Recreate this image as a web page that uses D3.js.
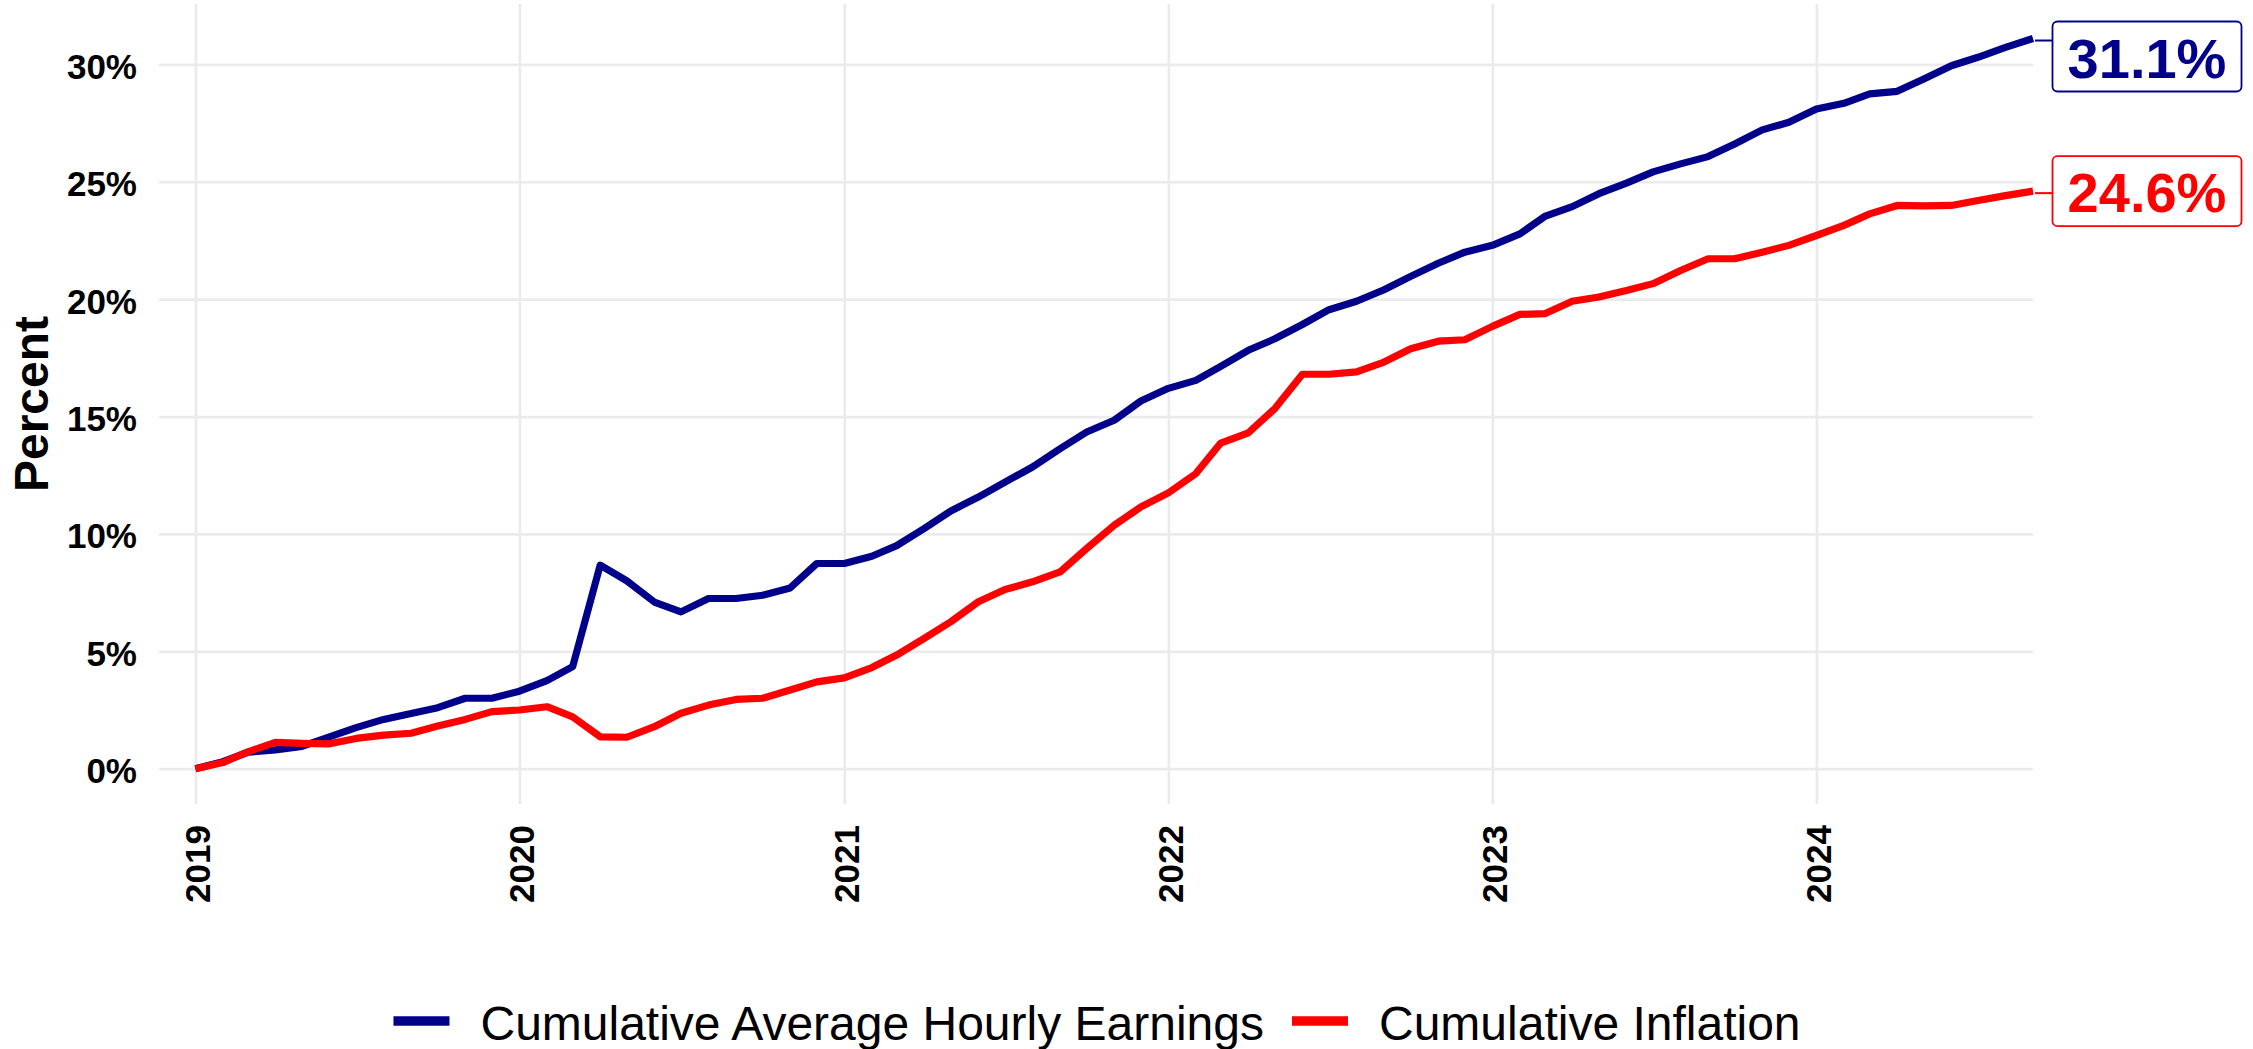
<!DOCTYPE html>
<html>
<head>
<meta charset="utf-8">
<script src="https://cdn.jsdelivr.net/npm/d3@7"></script>
<style>
  html, body { margin: 0; padding: 0; background: #ffffff; }
  svg { display: block; font-family: "Liberation Sans", Arial, Helvetica, sans-serif; }
</style>
</head>
<body>
<svg id="chart" width="2253" height="1049"></svg>
<script>
// ---------------- data ----------------
const months = [
  "2019-01","2019-02","2019-03","2019-04","2019-05","2019-06","2019-07","2019-08","2019-09","2019-10","2019-11","2019-12",
  "2020-01","2020-02","2020-03","2020-04","2020-05","2020-06","2020-07","2020-08","2020-09","2020-10","2020-11","2020-12",
  "2021-01","2021-02","2021-03","2021-04","2021-05","2021-06","2021-07","2021-08","2021-09","2021-10","2021-11","2021-12",
  "2022-01","2022-02","2022-03","2022-04","2022-05","2022-06","2022-07","2022-08","2022-09","2022-10","2022-11","2022-12",
  "2023-01","2023-02","2023-03","2023-04","2023-05","2023-06","2023-07","2023-08","2023-09","2023-10","2023-11","2023-12",
  "2024-01","2024-02","2024-03","2024-04","2024-05","2024-06","2024-07","2024-08","2024-09"
];

const earnings = [
  0.00, 0.30, 0.70, 0.80, 0.95, 1.36, 1.75, 2.10, 2.35, 2.60, 3.00, 3.00,
  3.30, 3.75, 4.35, 8.67, 8.00, 7.10, 6.68, 7.25, 7.25, 7.39, 7.70, 8.74,
  8.74, 9.05, 9.50, 10.23, 10.98, 11.57, 12.21, 12.85, 13.63, 14.34, 14.84, 15.66,
  16.20, 16.54, 17.14, 17.82, 18.31, 18.92, 19.55, 19.91, 20.40, 20.97, 21.53, 22.00,
  22.29, 22.78, 23.52, 23.94, 24.49, 24.94, 25.42, 25.76, 26.07, 26.61, 27.21, 27.53,
  28.10, 28.34, 28.74, 28.85, 29.38, 29.94, 30.30, 30.72, 31.10
];

const inflation = [
  0.00, 0.26, 0.72, 1.12, 1.08, 1.06, 1.29, 1.43, 1.51, 1.82, 2.10, 2.43,
  2.50, 2.64, 2.21, 1.36, 1.34, 1.79, 2.36, 2.71, 2.95, 3.00, 3.35, 3.70,
  3.87, 4.31, 4.84, 5.55, 6.26, 7.11, 7.63, 7.96, 8.38, 9.38, 10.37, 11.15,
  11.75, 12.57, 13.87, 14.30, 15.34, 16.80, 16.80, 16.90, 17.32, 17.89, 18.21, 18.27,
  18.84, 19.35, 19.38, 19.91, 20.09, 20.37, 20.66, 21.22, 21.72, 21.72, 22.00, 22.29,
  22.71, 23.14, 23.63, 23.99, 23.97, 23.99, 24.20, 24.41, 24.60
];

const seriesNames = ["Cumulative Average Hourly Earnings", "Cumulative Inflation"];
const seriesColors = ["#00008B", "#FF0000"];
const endLabels = ["31.1%", "24.6%"];

const xTickLabels = ["2019", "2020", "2021", "2022", "2023", "2024"];
const yTickValues = [0, 5, 10, 15, 20, 25, 30];
const yTitle = "Percent";

// ---------------- layout ----------------
const svg = d3.select("#chart");
const panel = { left: 159, right: 2033, top: 4, bottom: 804 };
const parseMonth = d3.timeParse("%Y-%m");
const dates = months.map(parseMonth);

const x = d3.scaleTime()
  .domain([new Date(2018, 10, 21), new Date(2024, 8, 1)])
  .range([panel.left, panel.right]);

const y = d3.scaleLinear()
  .domain([-1.503, 32.57])
  .range([panel.bottom, panel.top]);

const gridColor = "#EBEBEB";

// y grid + labels
const yAxis = d3.axisLeft(y)
  .tickValues(yTickValues)
  .tickFormat(d => d + "%")
  .tickSize(-(panel.right - panel.left))
  .tickPadding(22);

const gy = svg.append("g")
  .attr("transform", `translate(${panel.left},0)`)
  .call(yAxis);
gy.select(".domain").remove();
gy.selectAll(".tick line").attr("stroke", gridColor).attr("stroke-width", 2.7);
gy.selectAll(".tick text")
  .attr("dy", "0.4em")
  .attr("fill", "#000")
  .style("font-size", "35px")
  .style("font-weight", "bold");

// x grid + labels
const xAxis = d3.axisBottom(x)
  .tickValues(xTickLabels.map(s => d3.timeParse("%Y")(s)))
  .tickFormat(d3.timeFormat("%Y"))
  .tickSize(-(panel.bottom - panel.top));

const gx = svg.append("g")
  .attr("transform", `translate(0,${panel.bottom})`)
  .call(xAxis);
gx.select(".domain").remove();
gx.selectAll(".tick line").attr("stroke", gridColor).attr("stroke-width", 2.7);
gx.selectAll(".tick text")
  .attr("x", null).attr("y", null).attr("dy", null)
  .attr("transform", "translate(14,21) rotate(-90)")
  .attr("text-anchor", "end")
  .attr("fill", "#000")
  .style("font-size", "35px")
  .style("font-weight", "bold");

// y title
svg.append("text")
  .attr("transform", `translate(48,${(panel.top + panel.bottom) / 2}) rotate(-90)`)
  .attr("text-anchor", "middle")
  .style("font-size", "48px")
  .style("font-weight", "bold")
  .attr("fill", "#000")
  .text(yTitle);

// lines
const line = d3.line()
  .x((d, i) => x(dates[i]))
  .y(d => y(d));

[earnings, inflation].forEach((vals, k) => {
  svg.append("path")
    .datum(vals)
    .attr("fill", "none")
    .attr("stroke", seriesColors[k])
    .attr("stroke-width", 7.2)
    .attr("stroke-linejoin", "round")
    .attr("stroke-linecap", "butt")
    .attr("d", line);
});

// end labels
const boxX = 2052.5, boxW = 189, boxH = 70;
const boxCenters = [56.5, y(inflation[inflation.length - 1])];
[earnings, inflation].forEach((vals, k) => {
  const last = vals[vals.length - 1];
  const px = x(dates[dates.length - 1]);
  const py = y(last);
  const cy = boxCenters[k];
  const segY = Math.min(Math.max(py, cy - boxH / 2 + 6), cy + boxH / 2 - 6);
  svg.append("line")
    .attr("x1", px + 2).attr("x2", boxX)
    .attr("y1", py + 2).attr("y2", segY + 2)
    .attr("stroke", seriesColors[k])
    .attr("stroke-width", 2);
  svg.append("rect")
    .attr("x", boxX).attr("y", cy - boxH / 2)
    .attr("width", boxW).attr("height", boxH)
    .attr("rx", 5).attr("ry", 5)
    .attr("fill", "#fff")
    .attr("stroke", seriesColors[k])
    .attr("stroke-width", 1.8);
  svg.append("text")
    .attr("x", boxX + boxW / 2)
    .attr("y", cy + 21)
    .attr("text-anchor", "middle")
    .attr("fill", seriesColors[k])
    .style("font-size", "56px")
    .style("font-weight", "bold")
    .text(endLabels[k]);
});

// legend
const legendCenter = 1097, legendBaseline = 1040, keyCy = 1021;
const keyW = 56, keyH = 9.5, keyGap = 31, itemGap = 28;
const legend = svg.append("g");
const texts = seriesNames.map(n => legend.append("text")
  .style("font-size", "48px")
  .attr("fill", "#000")
  .attr("y", legendBaseline)
  .text(n));
const widths = texts.map(t => t.node().getComputedTextLength());
const total = widths.reduce((a, w) => a + keyW + keyGap + w, 0) + itemGap * (seriesNames.length - 1);
let cx = legendCenter - total / 2;
seriesNames.forEach((n, k) => {
  legend.append("rect")
    .attr("x", cx).attr("y", keyCy - keyH / 2)
    .attr("width", keyW).attr("height", keyH)
    .attr("fill", seriesColors[k]);
  texts[k].attr("x", cx + keyW + keyGap);
  cx += keyW + keyGap + widths[k] + itemGap;
});
</script>
</body>
</html>
